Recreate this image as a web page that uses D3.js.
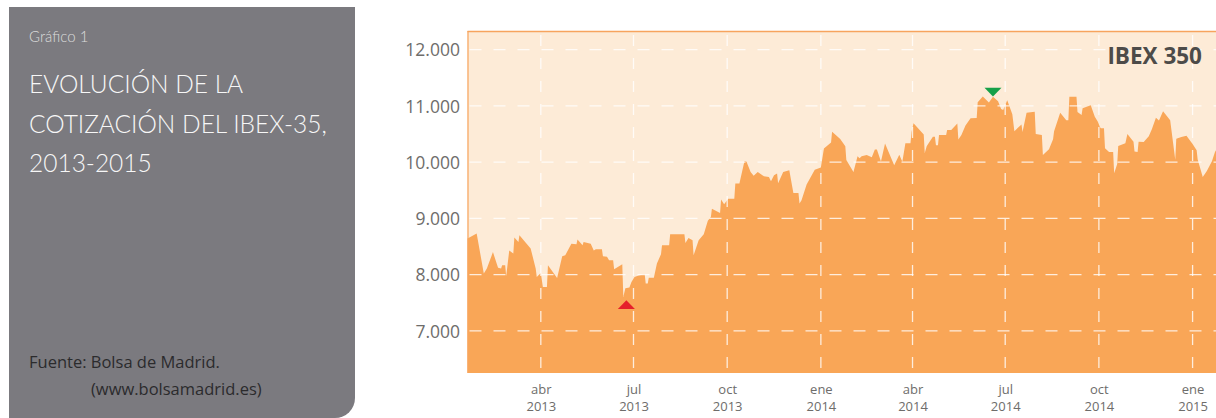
<!DOCTYPE html>
<html>
<head>
<meta charset="utf-8">
<script src="https://cdn.jsdelivr.net/npm/d3@7"></script>
<style>
  html, body { margin: 0; padding: 0; background: #ffffff; }
  svg { display: block; }
</style>
</head>
<body>
<svg id="chart" width="1216" height="418"></svg>
<script>
// ---------- DATA ----------
const dates = [
  "2013-01-19","2013-01-28","2013-02-04","2013-02-07","2013-02-13","2013-02-18","2013-02-21","2013-02-22","2013-02-25","2013-02-26",
  "2013-03-01","2013-03-05","2013-03-06","2013-03-10","2013-03-11","2013-03-22","2013-03-27","2013-03-28","2013-04-01","2013-04-03",
  "2013-04-07","2013-04-08","2013-04-17","2013-04-22","2013-04-25","2013-05-01","2013-05-06","2013-05-07","2013-05-12","2013-05-13",
  "2013-05-20","2013-05-23","2013-05-25","2013-05-31","2013-06-01","2013-06-05","2013-06-07","2013-06-11","2013-06-12","2013-06-20",
  "2013-06-21","2013-06-23","2013-06-27","2013-06-29","2013-07-02","2013-07-06","2013-07-12","2013-07-13","2013-07-15","2013-07-16",
  "2013-07-21","2013-07-24","2013-07-28","2013-07-29","2013-08-05","2013-08-06","2013-08-20","2013-08-21","2013-08-24","2013-08-28",
  "2013-08-29","2013-09-03","2013-09-08","2013-09-12","2013-09-15","2013-09-16","2013-09-24","2013-09-25","2013-09-28","2013-10-02",
  "2013-10-08","2013-10-09","2013-10-13","2013-10-18","2013-10-20","2013-10-24","2013-10-27","2013-10-31","2013-11-06","2013-11-11",
  "2013-11-13","2013-11-16","2013-11-19","2013-11-20","2013-11-25","2013-12-01","2013-12-05","2013-12-10","2013-12-11","2013-12-13",
  "2013-12-18","2013-12-26","2014-01-01","2014-01-04","2014-01-11","2014-01-12","2014-01-20","2014-01-25","2014-01-26","2014-02-02",
  "2014-02-06","2014-02-08","2014-02-10","2014-02-15","2014-02-20","2014-02-23","2014-02-25","2014-03-01","2014-03-05","2014-03-14",
  "2014-03-19","2014-03-22","2014-03-25","2014-03-30","2014-03-31","2014-04-02","2014-04-12","2014-04-13","2014-04-15","2014-04-21",
  "2014-04-23","2014-04-24","2014-04-26","2014-04-27","2014-05-04","2014-05-05","2014-05-09","2014-05-15","2014-05-16","2014-05-19",
  "2014-05-23","2014-05-28","2014-06-03","2014-06-04","2014-06-09","2014-06-15","2014-06-19","2014-06-24","2014-06-27","2014-06-29",
  "2014-07-03","2014-07-08","2014-07-10","2014-07-17","2014-07-18","2014-07-22","2014-07-30","2014-07-31","2014-08-06","2014-08-07",
  "2014-08-13","2014-08-17","2014-08-18","2014-08-24","2014-08-30","2014-09-01","2014-09-02","2014-09-09","2014-09-10","2014-09-14",
  "2014-09-15","2014-09-23","2014-09-27","2014-09-30","2014-10-02","2014-10-03","2014-10-06","2014-10-07","2014-10-11","2014-10-15",
  "2014-10-16","2014-10-19","2014-10-20","2014-10-27","2014-10-29","2014-11-04","2014-11-05","2014-11-08","2014-11-09","2014-11-14",
  "2014-11-19","2014-11-22","2014-11-26","2014-11-29","2014-12-03","2014-12-10","2014-12-15","2014-12-16","2014-12-21","2014-12-26",
  "2015-01-01","2015-01-05","2015-01-06","2015-01-11","2015-01-15","2015-01-20","2015-01-23","2015-01-24"
];
const values = [
  8640,8730,8020,8110,8400,8120,8110,8165,8165,7970,
  8430,8375,8660,8580,8700,8465,8105,7955,8030,7780,
  7780,8165,7940,8325,8345,8550,8540,8625,8520,8580,
  8550,8430,8450,8450,8325,8315,8255,8255,8095,8185,
  7600,7755,7770,7870,7955,7985,8005,7840,7840,7945,
  7945,8195,8360,8520,8520,8715,8715,8560,8650,8610,
  8345,8610,8715,8955,9025,9170,9095,9335,9250,9350,
  9350,9620,9620,10020,10005,9825,9755,9825,9750,9735,
  9660,9765,9795,9625,9825,9855,9450,9450,9265,9320,
  9600,9865,9905,10240,10350,10540,10410,10280,10035,9825,
  10105,10070,10105,10125,10085,10225,10225,10010,10330,9945,
  10130,10005,10335,10335,10535,10690,10490,10160,10285,10450,
  10450,10300,10300,10480,10480,10570,10570,10685,10400,10480,
  10650,10780,10785,11065,11165,11060,11160,11080,10945,10925,
  11100,10850,10550,10670,10535,10875,10895,10500,10480,10125,
  10230,10405,10550,10875,10745,10745,11160,11160,10890,10835,
  10955,11010,10805,10715,10625,10600,10600,10245,10180,10180,
  9800,9965,10285,10335,10500,10360,10190,10180,10360,10355,
  10460,10585,10790,10740,10905,10745,10040,10415,10445,10470,
  10320,10210,10045,9735,9840,10015,10180,10210
];
const xDomain = ["2013-01-19", "2015-01-24"];
const yDomain = [6250, 12330];
const yTicks = [7000, 8000, 9000, 10000, 11000, 12000];
const xTickDates = ["2013-04-01","2013-07-01","2013-10-01","2014-01-01","2014-04-01","2014-07-01","2014-10-01","2015-01-01"];
const xTickMonths = ["abr","jul","oct","ene","abr","jul","oct","ene"];
const xTickYears = ["2013","2013","2013","2014","2014","2014","2014","2015"];
const minMarker = { date: "2013-06-24", value: 7440 };
const maxMarker = { date: "2014-06-19", value: 11270 };
const seriesName = "IBEX 350";
const panelLabel = "Gráfico 1";
const titleLines = ["EVOLUCIÓN DE LA", "COTIZACIÓN DEL IBEX-35,", "2013-2015"];
const sourceLines = ["Fuente: Bolsa de Madrid.", "(www.bolsamadrid.es)"];

// ---------- LAYOUT ----------
const parse = d3.utcParse("%Y-%m-%d");
const series = dates.map((d, i) => ({ date: parse(d), value: values[i] }));
const plot = { left: 467.5, right: 1216, top: 31, bottom: 373 };

const svg = d3.select("#chart");

// Left grey panel
svg.append("path")
  .attr("d", "M9,7 H355 V398 A20,20 0 0 1 335,418 H9 Z")
  .attr("fill", "#7b7a7f");

const panel = svg.append("g").attr("font-family", "Lato, 'Open Sans', sans-serif");
panel.append("text").attr("x", 29).attr("y", 42)
  .attr("font-size", 15).attr("font-weight", 300).attr("fill", "#dcdcdc").text(panelLabel);
panel.selectAll("text.title").data(titleLines).join("text")
  .attr("class", "title")
  .attr("x", 29).attr("y", (d, i) => 93 + i * 39.5)
  .attr("font-size", 24.5).attr("font-weight", 300).attr("fill", "#f7f7f7")
  .text(d => d);
panel.append("text").attr("x", 29).attr("y", 368)
  .attr("font-family", "'Open Sans', sans-serif")
  .attr("font-size", 16.5).attr("fill", "#2b2b2d").text(sourceLines[0]);
panel.append("text").attr("x", 91).attr("y", 395)
  .attr("font-family", "'Open Sans', sans-serif")
  .attr("font-size", 16.5).attr("fill", "#2b2b2d").text(sourceLines[1]);

// Scales
const x = d3.scaleUtc().domain(xDomain.map(parse)).range([plot.left, plot.right]);
const y = d3.scaleLinear().domain(yDomain).range([plot.bottom, plot.top]);

// Plot background
svg.append("rect")
  .attr("x", plot.left).attr("y", plot.top)
  .attr("width", plot.right - plot.left).attr("height", plot.bottom - plot.top)
  .attr("fill", "#fdebd7");

// Area
const area = d3.area()
  .x(d => x(d.date))
  .y0(plot.bottom)
  .y1(d => y(d.value))
  .curve(d3.curveLinear);
svg.append("path").datum(series)
  .attr("d", area)
  .attr("fill", "#f9a657");

// Grid
const grid = svg.append("g")
  .attr("stroke", "#ffffff").attr("stroke-opacity", 0.8)
  .attr("stroke-width", 1.3).attr("fill", "none");
grid.selectAll("line.h").data(yTicks).join("line")
  .attr("class", "h")
  .attr("x1", plot.left + 2).attr("x2", plot.right)
  .attr("y1", d => y(d)).attr("y2", d => y(d))
  .attr("stroke-dasharray", "12,12");
grid.selectAll("line.v").data(xTickDates).join("line")
  .attr("class", "v")
  .attr("x1", d => x(parse(d))).attr("x2", d => x(parse(d)))
  .attr("y1", plot.top + 4).attr("y2", plot.bottom)
  .attr("stroke-dasharray", "11,12");

// Borders (top and left)
svg.append("line")
  .attr("x1", plot.left).attr("x2", plot.right)
  .attr("y1", plot.top + 0.5).attr("y2", plot.top + 0.5)
  .attr("stroke", "#f7a45e").attr("stroke-width", 1.5);
svg.append("line")
  .attr("x1", plot.left + 0.5).attr("x2", plot.left + 0.5)
  .attr("y1", plot.top).attr("y2", plot.bottom)
  .attr("stroke", "#f7a45e").attr("stroke-width", 1.2);

// Y axis labels
const yAxis = d3.axisLeft(y).tickValues(yTicks).tickSize(0).tickPadding(0)
  .tickFormat(d => d3.format(",")(d).replace(/,/g, "."));
const gy = svg.append("g").attr("transform", `translate(460,0)`).call(yAxis);
gy.select(".domain").remove();
gy.selectAll("text")
  .attr("font-family", "'Open Sans', sans-serif")
  .attr("font-size", 17.5).attr("fill", "#6e6d6b")
  .attr("dy", "0.36em");

// X axis labels (two lines)
const xAxis = d3.axisBottom(x).tickValues(xTickDates.map(parse)).tickSize(0).tickFormat("");
const gx = svg.append("g").attr("transform", `translate(0,${plot.bottom})`).call(xAxis);
gx.select(".domain").remove();
gx.selectAll(".tick").each(function(d, i) {
  const t = d3.select(this);
  t.select("text").remove();
  t.append("text").attr("y", 20.5).attr("text-anchor", "middle")
    .attr("font-family", "'Open Sans', sans-serif").attr("font-size", 13)
    .attr("fill", "#6e6d6b").text(xTickMonths[i]);
  t.append("text").attr("y", 38).attr("text-anchor", "middle")
    .attr("font-family", "'Open Sans', sans-serif").attr("font-size", 13)
    .attr("fill", "#6e6d6b").text(xTickYears[i]);
});

// Min / max markers
const sym = d3.symbol().type(d3.symbolTriangle).size(80);
svg.append("path")
  .attr("d", sym())
  .attr("transform", `translate(${x(parse(minMarker.date))},${y(minMarker.value)}) scale(1.25,0.75)`)
  .attr("fill", "#e5202b");
svg.append("path")
  .attr("d", sym())
  .attr("transform", `translate(${x(parse(maxMarker.date))},${y(maxMarker.value)}) rotate(180) scale(1.25,0.75)`)
  .attr("fill", "#16a048");

// Series title
svg.append("text")
  .attr("x", 1202).attr("y", 63.5).attr("text-anchor", "end")
  .attr("font-family", "'Open Sans', sans-serif")
  .attr("font-weight", 700).attr("font-size", 22.5).attr("fill", "#4d4b49")
  .text(seriesName);
</script>
</body>
</html>
